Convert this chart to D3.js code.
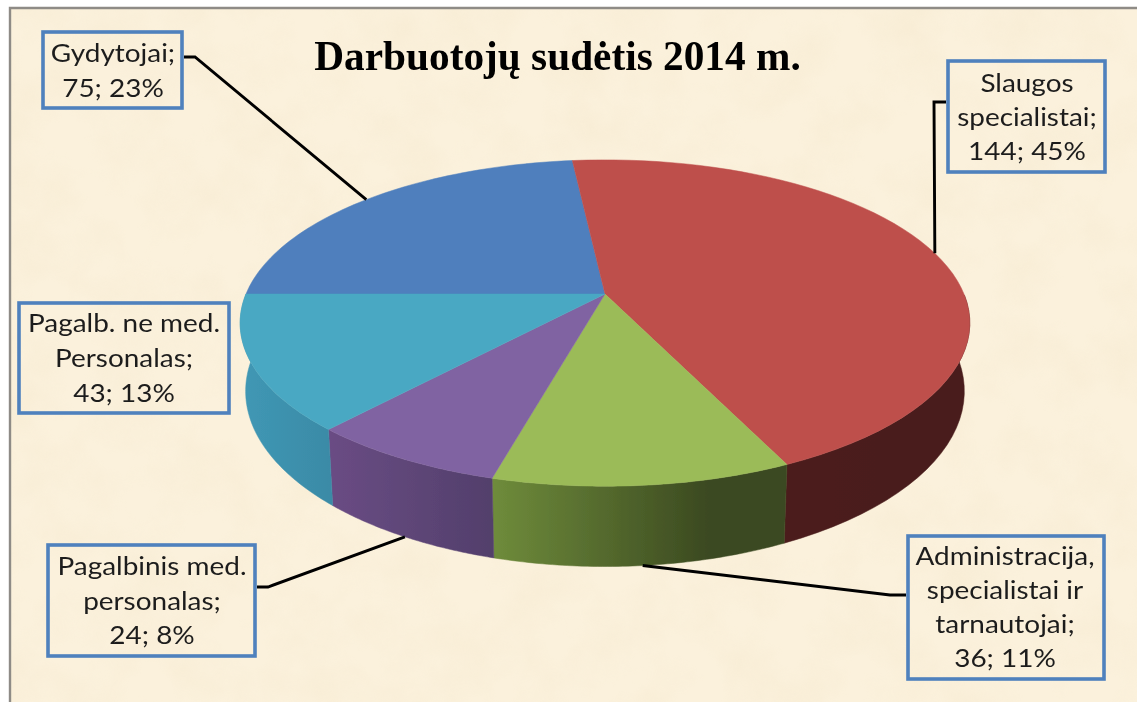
<!DOCTYPE html>
<html>
<head>
<meta charset="utf-8">
<title>Darbuotojų sudėtis 2014 m.</title>
<style>
  html, body { margin: 0; padding: 0; background: #fff; }
  svg { display: block; }
</style>
<script src="https://d3js.org/d3.v7.min.js"></script>
</head>
<body>
<div id="content"></div>
<script>
// values
var categories = ['Gydytojai', 'Slaugos specialistai', 'Administracija, specialistai ir tarnautojai', 'Pagalbinis med. personalas', 'Pagalb. ne med. Personalas'];
var values = [75, 144, 36, 24, 43];
var percents = [23, 45, 11, 8, 13];
var nameLines = [
  ['Gydytojai;'],
  ['Slaugos', 'specialistai;'],
  ['Administracija,', 'specialistai ir', 'tarnautojai;'],
  ['Pagalbinis med.', 'personalas;'],
  ['Pagalb. ne med.', 'Personalas;']
];
var titleText = 'Darbuotojų sudėtis 2014 m.';

var topColors = ['#4f7fbd', '#be4f4c', '#9bbb59', '#8064a2', '#4aa8c3'];
// wall colours, left end then right end
var wallFrom = ['#3a5f8f', '#4c1e1d', '#6f8c3b', '#6a4c84', '#4098b5'];
var wallTo = ['#3a5f8f', '#481c1b', '#3a4820', '#523f6b', '#3a8aa6'];

// label boxes: x0, y0, x1, y1, text centre, first baseline, line gap
var boxes = [
  [43, 32, 182, 108, 113, 62, 35],
  [948, 61, 1105, 172, 1027, 92, 34],
  [908, 536, 1104, 679, 1005, 565, 34],
  [48, 545, 255, 656, 152, 575, 34.5],
  [19, 303, 229, 413, 124, 332, 35]
];
// elbow of the leader next to its box (null = no leader)
var elbows = [
  [[184, 57], [195, 57]],
  [[946, 102], [934, 102]],
  [[906, 595], [890, 595]],
  [[257, 587], [268, 587]],
  null
];

var width = 1138, height = 702;
var cx = 605, cy = 294, R = 359, K = 158, P = 0.178, DEPTH = 66, SHRINK = 0.015;

var x = d3.scaleLinear().domain([-1, 1]).range([cx - R, cx + R]);
var y = d3.scaleLinear().domain([-1, 1]).range([cy - K, cy + K]);

// angle on the disc -> screen, z=0 top face, z=1 bottom face
function project(a, z) {
  var u = Math.sin(a), v = -Math.cos(a);
  var s = 1 / (1 - P * v);
  return [
    x(u * s * (1 - SHRINK * z)),
    y(v * s) + z * DEPTH * s
  ];
}

var svg = d3.select('#content').append('svg')
  .attr('width', width).attr('height', height);

var defs = svg.append('defs');

var paper = defs.append('filter').attr('id', 'paper')
  .attr('x', 0).attr('y', 0).attr('width', '100%').attr('height', '100%');
paper.append('feTurbulence')
  .attr('type', 'fractalNoise').attr('baseFrequency', 0.018)
  .attr('numOctaves', 4).attr('seed', 7);
paper.append('feColorMatrix').attr('type', 'matrix')
  .attr('values', '0 0 0 0 0.89  0 0 0 0 0.78  0 0 0 0 0.58  1.1 0 0 0 -0.42');

defs.append('filter').attr('id', 'soft')
  .append('feGaussianBlur').attr('stdDeviation', 0.45);

var frame = svg.append('g');
frame.append('rect').attr('x', 10).attr('y', 8).attr('width', 1127).attr('height', 694)
  .attr('fill', '#fbf1dc');
frame.append('rect').attr('x', 11).attr('y', 9).attr('width', 1126).attr('height', 693)
  .attr('filter', 'url(#paper)').attr('opacity', 0.55);
frame.append('path').attr('d', 'M10,702V8H1137')
  .attr('fill', 'none').attr('stroke', '#8e8b86').attr('stroke-width', 2.4);

var chart = svg.append('g').attr('filter', 'url(#soft)');

var pie = d3.pie().sort(null).value(function (d) { return d; })
  .startAngle(-Math.PI / 2).endAngle(Math.PI * 3 / 2);
var arcs = pie(values);
var line = d3.line();

function sampleAngles(a0, a1) {
  return d3.range(0, 61).map(function (i) { return a0 + (a1 - a0) * i / 60; });
}

// side wall, only the part facing the viewer
arcs.forEach(function (d, i) {
  var angles = sampleAngles(d.startAngle, d.endAngle).filter(function (a) { return -Math.cos(a) >= -0.001; });
  if (angles.length < 2) return;
  var topEdge = angles.map(function (a) { return project(a, 0); });
  var botEdge = angles.map(function (a) { return project(a, 1); }).reverse();
  var pts = topEdge.concat(botEdge);
  var grad = defs.append('linearGradient').attr('id', 'wall' + i)
    .attr('gradientUnits', 'userSpaceOnUse')
    .attr('x1', d3.min(pts, function (p) { return p[0]; })).attr('y1', 0)
    .attr('x2', d3.max(pts, function (p) { return p[0]; })).attr('y2', 0);
  grad.append('stop').attr('offset', 0).attr('stop-color', wallFrom[i]);
  grad.append('stop').attr('offset', i === 2 ? 0.75 : 1).attr('stop-color', wallTo[i]);
  chart.append('path').attr('d', line(pts) + 'Z')
    .attr('fill', 'url(#wall' + i + ')')
    .attr('stroke', 'url(#wall' + i + ')').attr('stroke-width', 0.5);
});

// top face
arcs.forEach(function (d, i) {
  var pts = [[cx, cy]].concat(sampleAngles(d.startAngle, d.endAngle).map(function (a) { return project(a, 0); }));
  chart.append('path').attr('d', line(pts) + 'Z')
    .attr('fill', topColors[i]).attr('stroke', topColors[i]).attr('stroke-width', 0.5);
});

// leader lines end at the middle of the slice, on the rim for the back slices, on the wall foot for the front ones
arcs.forEach(function (d, i) {
  if (!elbows[i]) return;
  var mid = (d.startAngle + d.endAngle) / 2;
  var foot = -Math.cos(mid) > 0.5 ? 1 : 0;
  chart.append('path')
    .attr('d', line(elbows[i].concat([project(mid, foot)])))
    .attr('fill', 'none').attr('stroke', '#000').attr('stroke-width', 2.9);
});

// label boxes
boxes.forEach(function (b, i) {
  chart.append('rect')
    .attr('x', b[0]).attr('y', b[1]).attr('width', b[2] - b[0]).attr('height', b[3] - b[1])
    .attr('fill', 'none').attr('stroke', '#4f81bd').attr('stroke-width', 3.6);
  var rows = nameLines[i].concat([values[i] + '; ' + percents[i] + '%']);
  rows.forEach(function (t, j) {
    // the picture's labels are stretched sideways
    chart.append('text')
      .attr('transform', 'translate(' + b[4] + ',' + (b[5] + j * b[6]) + ') scale(1.14,1)')
      .attr('text-anchor', 'middle')
      .attr('font-family', 'Lato, "Noto Sans", sans-serif')
      .attr('font-size', 24.5)
      .attr('fill', '#1c1c1c')
      .text(t);
  });
});

chart.append('text')
  .attr('x', 557.5).attr('y', 70)
  .attr('text-anchor', 'middle')
  .attr('font-family', '"Liberation Serif", serif')
  .attr('font-weight', 'bold')
  .attr('font-size', 41.3)
  .attr('fill', '#000')
  .text(titleText);
</script>
</body>
</html>
